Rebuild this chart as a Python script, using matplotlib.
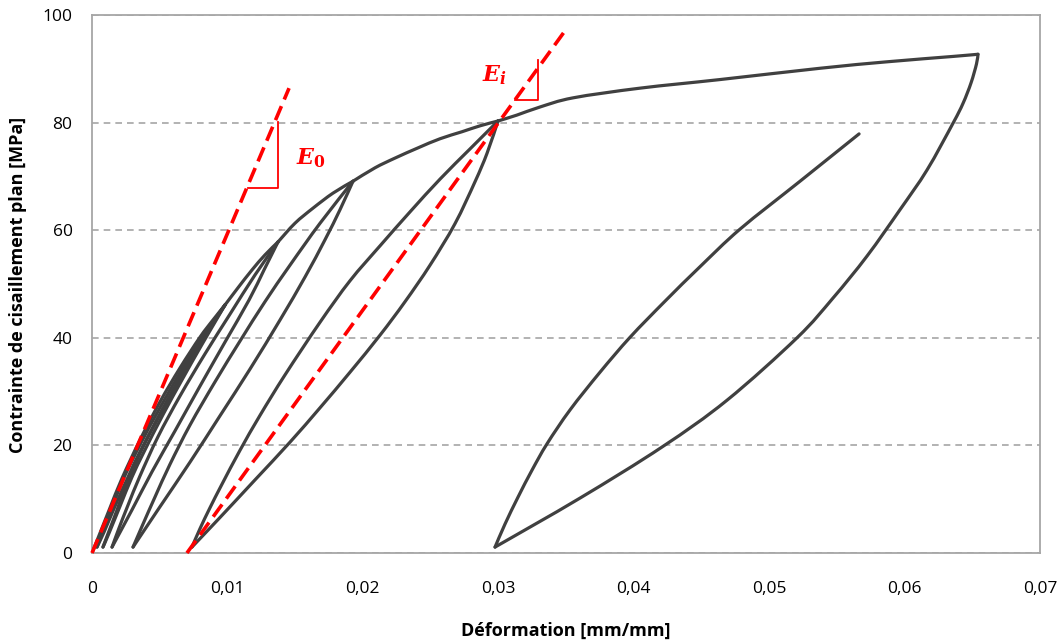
import matplotlib
matplotlib.use("Agg")
import matplotlib.pyplot as plt
import matplotlib.patches as mpatches
from matplotlib.path import Path
import numpy as np

# ---------------- data (strain [mm/mm], stress [MPa]) ----------------
load0_x = [0, 0.00059, 0.00133, 0.00222, 0.00354, 0.00502, 0.00650, 0.00797, 0.00893, 0.00982]
load0_y = [0, 3.7, 8.4, 13.9, 21.0, 28.1, 34.4, 40.1, 43.3, 46.1]

a_unload1_x = [0.00982, 0.00893, 0.00783, 0.00650, 0.00502, 0.00354, 0.00266, 0.00170, 0.00089, 0.00037]
a_unload1_y = [46.1, 42.8, 38.1, 32.2, 25.7, 18.8, 14.1, 8.7, 3.9, 1.1]
a_reload1_x = [0.00037, 0.00081, 0.00148, 0.00229, 0.00354, 0.00502, 0.00650, 0.00797, 0.00893, 0.00982]
a_reload1_y = [1.1, 4.1, 8.4, 13.6, 20.1, 27.0, 33.5, 39.6, 42.9, 46.1]
a_unload2_x = [0.00982, 0.00901, 0.00797, 0.00665, 0.00524, 0.00384, 0.00295, 0.00207, 0.00126, 0.00081]
a_unload2_y = [46.1, 42.6, 38.1, 32.2, 25.7, 18.8, 14.1, 8.7, 3.7, 1.1]
a_reload2_x = [0.00081, 0.00126, 0.00185, 0.00258, 0.00377, 0.00517, 0.00665, 0.00805, 0.00901, 0.00982]
a_reload2_y = [1.1, 4.1, 8.0, 13.0, 19.7, 26.6, 33.3, 39.4, 42.9, 46.1]

env_ab_x = [0.00982, 0.01078, 0.01181, 0.01277, 0.01373]
env_ab_y = [46.1, 49.3, 52.6, 55.4, 57.8]

b_unload_x = [0.01373, 0.01270, 0.01159, 0.00982, 0.00797, 0.00613, 0.00443, 0.00295, 0.00148]
b_unload_y = [57.8, 52.6, 47.0, 39.2, 31.0, 22.7, 15.1, 8.0, 1.1]
b_reload_x = [0.00148, 0.00199, 0.00266, 0.00354, 0.00487, 0.00650, 0.00834, 0.01019, 0.01204, 0.01373]
b_reload_y = [1.1, 4.6, 8.9, 14.3, 21.6, 29.2, 37.0, 44.4, 51.7, 57.8]

env_bc_x = [0.01373, 0.01499, 0.01632, 0.01780, 0.01927]
env_bc_y = [57.8, 61.3, 64.1, 66.9, 69.1]

c_unload_x = [0.01927, 0.01831, 0.01720, 0.01573, 0.01388, 0.01167, 0.00945, 0.00724, 0.00502, 0.00303]
c_unload_y = [69.1, 63.8, 58.2, 51.3, 43.3, 34.2, 25.5, 16.9, 8.6, 1.1]
c_reload_x = [0.00303, 0.00377, 0.00465, 0.00576, 0.00724, 0.00908, 0.01093, 0.01277, 0.01462, 0.01684, 0.01927]
c_reload_y = [1.1, 5.4, 10.4, 16.5, 23.8, 31.8, 39.4, 46.7, 53.5, 61.3, 69.1]

env_cd_x = [0.01927, 0.02090, 0.02237, 0.02407, 0.02570, 0.02732, 0.02865, 0.02998]
env_cd_y = [69.1, 71.6, 73.4, 75.3, 77.0, 78.3, 79.4, 80.3]

d_unload_x = [0.02998, 0.02917, 0.02828, 0.02680, 0.02496, 0.02311, 0.02127, 0.01905, 0.01684, 0.01462, 0.01204, 0.00945, 0.00738]
d_unload_y = [80.3, 74.3, 69.0, 61.2, 53.5, 46.7, 40.5, 33.6, 27.0, 20.6, 13.6, 6.6, 1.1]
d_reload_x = [0.00738, 0.00797, 0.00871, 0.00960, 0.01093, 0.01241, 0.01425, 0.01684, 0.01905, 0.02127, 0.02348, 0.02570, 0.02791, 0.02998]
d_reload_y = [1.1, 4.5, 8.4, 12.8, 19.1, 25.6, 33.1, 42.9, 50.6, 57.1, 63.4, 69.5, 75.1, 80.3]

env_de_x = [0.02998, 0.03138, 0.03308, 0.03552, 0.04046, 0.04637, 0.05376, 0.05870, 0.06358, 0.06542]
env_de_y = [80.3, 81.4, 82.9, 84.6, 86.4, 88.0, 90.1, 91.3, 92.3, 92.7]

e_unload_x = [0.06542, 0.06531, 0.06491, 0.06432, 0.06358, 0.06166, 0.05966, 0.05723, 0.05472, 0.05206, 0.04689, 0.04209, 0.03603, 0.02976]
e_unload_y = [92.7, 90.9, 87.4, 83.6, 79.9, 71.2, 63.8, 55.2, 47.4, 40.0, 28.4, 19.7, 10.2, 1.1]
e_reload_x = [0.02976, 0.03050, 0.03146, 0.03249, 0.03360, 0.03530, 0.03751, 0.03973, 0.04231, 0.04489, 0.04785, 0.05228, 0.05664]
e_reload_y = [1.1, 5.4, 10.4, 15.4, 20.3, 26.6, 33.6, 40.1, 46.8, 53.2, 60.2, 69.1, 77.9]

# modulus lines
e0_x = [0.0, 0.01455]
e0_y = [0.0, 86.4]
ei_x = [0.00701, 0.03485]
ei_y = [0.0, 96.8]
e0_tri_x = [0.01152, 0.01373, 0.01373]
e0_tri_y = [67.8, 67.8, 80.1]
ei_tri_x = [0.03123, 0.03293, 0.03293]
ei_tri_y = [84.2, 84.2, 91.6]

x_ticks = [0, 0.01, 0.02, 0.03, 0.04, 0.05, 0.06, 0.07]
x_tick_labels = ["0", "0,01", "0,02", "0,03", "0,04", "0,05", "0,06", "0,07"]
y_ticks = [0, 20, 40, 60, 80, 100]

# ---------------- figure ----------------
plt.rcParams['font.family'] = ['Open Sans', 'DejaVu Sans']
plt.rcParams['mathtext.fontset'] = 'dejavuserif'

fig = plt.figure(figsize=(10.64, 6.44), dpi=100)
ax = fig.add_axes([92 / 1064, (644 - 553) / 644, (1040 - 92) / 1064, (553 - 15) / 644])


def smooth_branch(ax, xs, ys, **kw):
    """Draw a branch as a smoothed line (like a spreadsheet 'smoothed line')."""
    P = np.column_stack([xs, ys]).astype(float)
    n = len(P)
    verts = [P[0]]
    codes = [Path.MOVETO]
    for i in range(n - 1):
        p0 = P[i - 1] if i > 0 else P[i]
        p1 = P[i]
        p2 = P[i + 1]
        p3 = P[i + 2] if i + 2 < n else P[i + 1]
        c1 = p1 + (p2 - p0) / 6.0
        c2 = p2 - (p3 - p1) / 6.0
        verts += [c1, c2, p2]
        codes += [Path.CURVE4] * 3
    patch = mpatches.PathPatch(Path(verts, codes), fill=False, transform=ax.transData, **kw)
    ax.add_patch(patch)


branches = [(load0_x, load0_y), (a_unload1_x, a_unload1_y), (a_reload1_x, a_reload1_y),
            (a_unload2_x, a_unload2_y), (a_reload2_x, a_reload2_y), (env_ab_x, env_ab_y),
            (b_unload_x, b_unload_y), (b_reload_x, b_reload_y), (env_bc_x, env_bc_y),
            (c_unload_x, c_unload_y), (c_reload_x, c_reload_y), (env_cd_x, env_cd_y),
            (d_unload_x, d_unload_y), (d_reload_x, d_reload_y), (env_de_x, env_de_y),
            (e_unload_x, e_unload_y), (e_reload_x, e_reload_y)]
for bx, by in branches:
    smooth_branch(ax, bx, by, edgecolor='#404040', lw=2.3, joinstyle='round',
                  capstyle='round', zorder=3)

red = '#FF0000'
ax.plot(e0_x, e0_y, color=red, lw=2.6, dashes=(4.2, 2.0), zorder=4, clip_on=False)
ax.plot(ei_x, ei_y, color=red, lw=2.6, dashes=(4.2, 2.0), zorder=4, clip_on=False)
ax.plot(e0_tri_x, e0_tri_y, color=red, lw=1.3, zorder=4)
ax.plot(ei_tri_x, ei_tri_y, color=red, lw=1.3, zorder=4)

ax.text(0.0162, 73.4, r'$\boldsymbol{E}_{\mathbf{0}}$', color=red, fontsize=16,
        ha='center', va='center')
ax.text(0.0297, 88.8, r'$\boldsymbol{E}_{\boldsymbol{i}}$', color=red, fontsize=16,
        ha='center', va='center')

ax.set_xlim(0, 0.07)
ax.set_ylim(0, 100)
ax.set_xticks(x_ticks)
ax.set_xticklabels(x_tick_labels)
ax.set_yticks(y_ticks)

ax.yaxis.grid(True, color='#A6A6A6', linestyle=(0, (4, 3)), lw=1.2)
ax.set_axisbelow(True)
for s in ax.spines.values():
    s.set_color('#A6A6A6')
    s.set_linewidth(1.3)

ax.tick_params(axis='both', length=0, labelsize=12.5, colors='black')
ax.tick_params(axis='x', pad=20)
ax.tick_params(axis='y', pad=14)

fig.text(566 / 1064, (644 - 631) / 644, 'Déformation [mm/mm]', fontsize=13,
         fontweight='bold', ha='center', va='center')
fig.text(18 / 1064, (644 - 285) / 644, 'Contrainte de cisaillement plan [MPa]', fontsize=13,
         fontweight='bold', ha='center', va='center', rotation=90)

fig.savefig('out.png', dpi=100)
